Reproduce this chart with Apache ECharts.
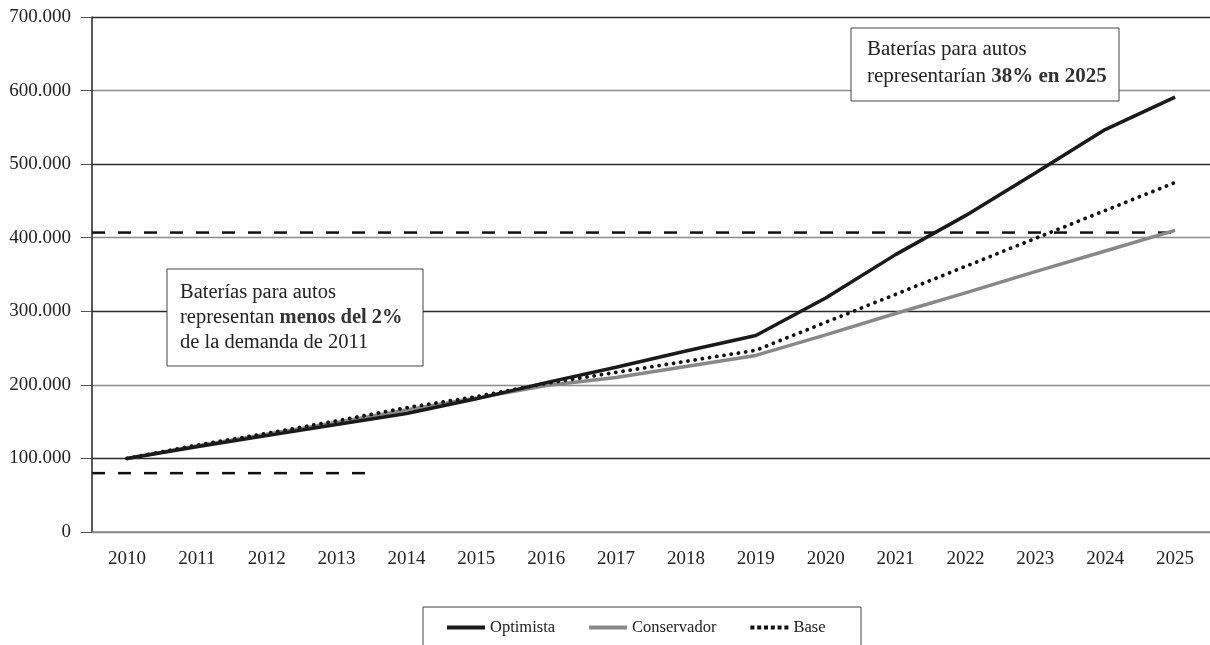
<!DOCTYPE html>
<html><head><meta charset="utf-8">
<script src="https://cdn.jsdelivr.net/npm/echarts@6/dist/echarts.min.js"></script>
<style>html,body{margin:0;padding:0;background:#fff}#c{width:1210px;height:645px}</style>
</head><body><div id="c"></div>
<script>
const years = ['2010','2011','2012','2013','2014','2015','2016','2017','2018','2019','2020','2021','2022','2023','2024','2025'];
const optimista = [100000,116000,131000,146000,161000,181000,203000,224000,246000,267000,318000,377000,430000,488000,547000,591000];
const conservador = [100000,117000,133000,149000,166000,182000,199000,210000,225000,240000,268000,297000,325000,354000,382000,410000];
const base = [100000,118000,134000,151000,169000,184000,202000,217000,232000,247000,285000,323000,361000,399000,437000,475000];
const refHigh = [[-0.5,407000],[15,407000]];
const refLow = [[-0.5,80000],[3.5,80000]];
const FONT = '"Liberation Serif", "DejaVu Serif", serif';

const dotIcon = 'path://M0,0h4v4h-4z M6.8,0h4v4h-4z M13.6,0h4v4h-4z M20.4,0h4v4h-4z M27.2,0h4v4h-4z M34,0h4v4h-4z';

const chart = echarts.init(document.getElementById('c'));
chart.setOption({
  animation:false,
  textStyle:{fontFamily:FONT},
  grid:{left:92, top:17, width:1123, height:515},
  xAxis:[{
    type:'category', data:years, boundaryGap:true,
    axisLine:{lineStyle:{color:'#888',width:1.5}},
    axisTick:{length:11, lineStyle:{color:'#333',width:1}},
    axisLabel:{color:'#222', fontSize:19, margin:18, fontFamily:FONT},
    splitLine:{show:false}
  },{
    type:'value', min:-0.5, max:15.5, show:false
  }],
  yAxis:{
    type:'value', min:0, max:700000, interval:100000,
    axisLine:{show:true, onZero:false, lineStyle:{color:'#222',width:1.5}},
    axisTick:{show:true, length:11, lineStyle:{color:'#555'}},
    axisLabel:{color:'#222', fontSize:19, margin:21, fontFamily:FONT,
      formatter: v => v===0 ? '0' : String(v).replace(/\B(?=(\d{3})+(?!\d))/g,'.')},
    splitLine:{show:true, lineStyle:{color:['#8a8a8a','#2a2a2a'], width:1.3}}
  },
  legend:{
    left:442, top:614, itemWidth:38, itemHeight:4, itemGap:34,
    textStyle:{fontSize:16.5, color:'#222', fontFamily:FONT},
    data:[
      {name:'Optimista', icon:'rect', itemStyle:{color:'#1a1a1a'}},
      {name:'Conservador', icon:'rect', itemStyle:{color:'#888'}},
      {name:'Base', icon:dotIcon, itemStyle:{color:'#111'}}
    ]
  },
  graphic:[
    {type:'rect', shape:{x:423,y:607,width:438,height:60}, style:{fill:'none',stroke:'#444',lineWidth:1}, z:1},
    {type:'rect', shape:{x:167,y:269,width:256,height:97}, style:{fill:'#fff',stroke:'#444',lineWidth:1}, z:100},
    {type:'text', x:180, y:280, z:101, style:{
      text:'Baterías para autos\nrepresentan {b|menos del 2%}\nde la demanda de 2011',
      font:'20.5px '+FONT, fill:'#222', lineHeight:25,
      rich:{b:{fontWeight:'bold', fontSize:20.5, fontFamily:FONT, fill:'#333', lineHeight:25}}
    }},
    {type:'rect', shape:{x:851,y:28,width:268,height:73}, style:{fill:'#fff',stroke:'#444',lineWidth:1}, z:100},
    {type:'text', x:867, y:36, z:101, style:{
      text:'Baterías para autos\nrepresentarían {b|38% en 2025}',
      font:'21px '+FONT, fill:'#222', lineHeight:27,
      rich:{b:{fontWeight:'bold', fontSize:21, fontFamily:FONT, fill:'#333', lineHeight:27}}
    }}
  ],
  series:[
    {name:'Conservador', type:'line', data:conservador, symbol:'none', z:3,
      lineStyle:{color:'#888', width:3.5}, itemStyle:{color:'#888'}},
    {name:'Base', type:'line', data:base, symbol:'none', z:4,
      lineStyle:{color:'#111', width:3.8, type:[0.1,7.2], cap:'round'}, itemStyle:{color:'#111'}},
    {name:'Optimista', type:'line', data:optimista, symbol:'none', z:5,
      lineStyle:{color:'#1a1a1a', width:3.5}, itemStyle:{color:'#1a1a1a'}},
    {name:'refHigh', type:'line', xAxisIndex:1, data:refHigh, symbol:'none', z:2,
      lineStyle:{color:'#111', width:2.5, type:[13,13]}},
    {name:'refLow', type:'line', xAxisIndex:1, data:refLow, symbol:'none', z:2,
      lineStyle:{color:'#111', width:2.5, type:[13,13]}}
  ]
});
</script></body></html>
